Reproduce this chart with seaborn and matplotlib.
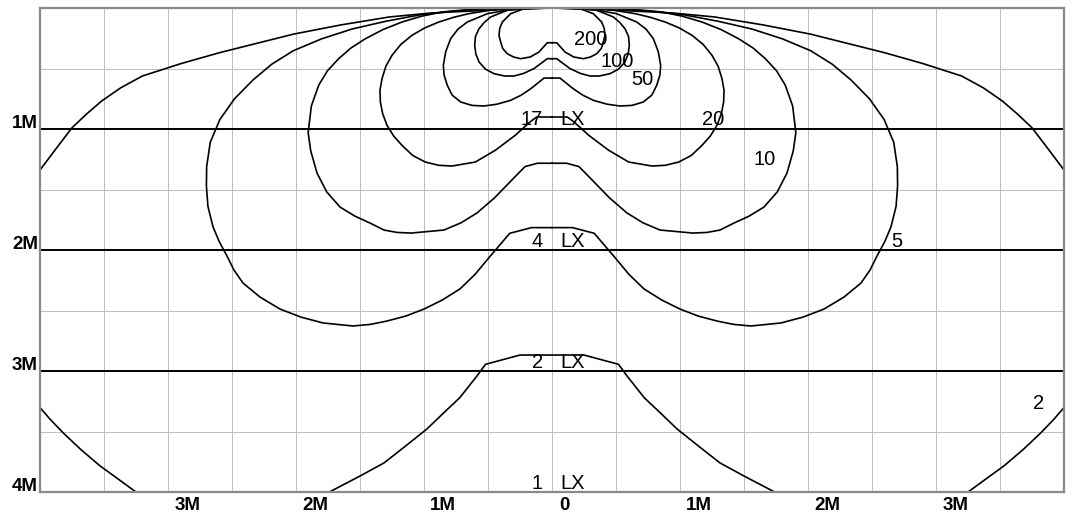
import numpy as np
import pandas as pd
import matplotlib
matplotlib.use("Agg")
import matplotlib.pyplot as plt
import seaborn as sns

# isolux curves, right half only (x in M from the lamp, y = depth in M)
# each half runs from the centre line out round the lobe and back to the top
lux_200 = [(0, 0.287), (0.037, 0.287), (0.102, 0.364), (0.17, 0.405), (0.245, 0.419),
           (0.3, 0.405), (0.349, 0.378), (0.385, 0.335), (0.401, 0.281), (0.414, 0.226),
           (0.408, 0.168), (0.388, 0.116), (0.323, 0.047), (0.219, 0.006), (0.1, 0.0),
           (0, 0)]
lux_100 = [(0, 0.419), (0.037, 0.419), (0.141, 0.501), (0.22, 0.54), (0.297, 0.562),
           (0.37, 0.562), (0.453, 0.543), (0.52, 0.505), (0.57, 0.446), (0.595, 0.38),
           (0.604, 0.308), (0.598, 0.235), (0.57, 0.171), (0.53, 0.12), (0.479, 0.074),
           (0.349, 0.019), (0.15, 0.002), (0, 0)]
lux_50 = [(0, 0.579), (0.0625, 0.579), (0.166, 0.667), (0.24, 0.72), (0.323, 0.763),
          (0.43, 0.795), (0.531, 0.81), (0.625, 0.805), (0.713, 0.777), (0.78, 0.72),
          (0.818, 0.639), (0.843, 0.555), (0.849, 0.474), (0.83, 0.36), (0.792, 0.254),
          (0.735, 0.175), (0.662, 0.116), (0.505, 0.047), (0.3, 0.008), (0, 0)]
lux_20 = [(0, 0.901), (0.12, 0.901), (0.17, 0.94), (0.287, 1.052), (0.443, 1.176),
          (0.599, 1.273), (0.781, 1.306), (0.885, 1.30), (0.99, 1.273), (1.089, 1.218),
          (1.172, 1.135), (1.237, 1.058), (1.289, 0.97), (1.323, 0.873), (1.341, 0.777),
          (1.344, 0.68), (1.328, 0.584), (1.297, 0.479), (1.25, 0.391), (1.18, 0.30),
          (1.094, 0.226), (0.995, 0.165), (0.885, 0.116), (0.768, 0.077),
          (0.651, 0.047), (0.52, 0.025), (0.391, 0.006), (0.2, 0.001), (0, 0)]
lux_10 = [(0, 1.283), (0.115, 1.283), (0.211, 1.311), (0.313, 1.421), (0.45, 1.57),
          (0.586, 1.694), (0.71, 1.775), (0.844, 1.835), (1.1, 1.86), (1.21, 1.855),
          (1.313, 1.835), (1.422, 1.777), (1.54, 1.72), (1.656, 1.645), (1.76, 1.52),
          (1.836, 1.364), (1.885, 1.18), (1.905, 1.03), (1.88, 0.81), (1.823, 0.639),
          (1.755, 0.52), (1.667, 0.419), (1.57, 0.33), (1.458, 0.254), (1.32, 0.178),
          (1.172, 0.116), (1.02, 0.068), (0.859, 0.033), (0.521, 0.0), (0, 0)]
lux_5 = [(0, 1.815), (0.16, 1.815), (0.33, 1.862), (0.49, 2.06), (0.6, 2.2),
         (0.719, 2.322), (0.86, 2.415), (1.0, 2.488), (1.14, 2.545), (1.289, 2.587),
         (1.42, 2.615), (1.555, 2.628), (1.789, 2.603), (1.96, 2.555), (2.125, 2.488),
         (2.28, 2.39), (2.414, 2.273), (2.485, 2.165), (2.539, 2.05), (2.60, 1.93),
         (2.648, 1.81), (2.688, 1.64), (2.70, 1.47), (2.698, 1.311), (2.67, 1.11),
         (2.594, 0.92), (2.48, 0.75), (2.336, 0.595), (2.19, 0.465), (2.021, 0.353),
         (1.80, 0.255), (1.563, 0.174), (1.30, 0.11), (1.039, 0.058), (0.78, 0.027),
         (0.516, 0.008), (0, 0)]
lux_outer = [(4.05, 1.41), (3.88, 1.17), (3.75, 0.99), (3.64, 0.88), (3.52, 0.77),
             (3.37, 0.66), (3.2, 0.562), (2.9, 0.46), (2.6, 0.37), (2.02, 0.216),
             (1.65, 0.14), (1.27, 0.074), (0.94, 0.041), (0.47, 0.017), (0, 0)]
lux_low = [(1.80, 4.05), (1.75, 4.006), (1.5, 3.868), (1.313, 3.76), (1.15, 3.625),
           (0.977, 3.479), (0.85, 3.35), (0.72, 3.22), (0.586, 3.041), (0.52, 2.945),
           (0.25, 2.868), (0, 2.868)]
lux_corner = [(4.1, 3.2), (4.01, 3.29), (3.92, 3.40), (3.82, 3.51), (3.68, 3.65),
              (3.53, 3.785), (3.38, 3.90), (3.24, 4.008), (3.2, 4.04)]

# curve labels: text, x, baseline y
curve_labels = [("200", 0.303, 0.308), ("100", 0.508, 0.488), ("50", 0.707, 0.639),
                ("20", 1.258, 0.969), ("10", 1.664, 1.30), ("5", 2.695, 1.973),
                ("2", 3.805, 3.317)]
# lux straight below the lamp at each depth
centre_lux = ["17", "4", "2", "1"]
centre_y = [0.971, 1.973, 2.973, 3.975]

depth_ticks = [1, 2, 3, 4]
dist_ticks = [-3, -2, -1, 0, 1, 2, 3]
dist_labels = ["3M", "2M", "1M", "0", "1M", "2M", "3M"]


def mirror(half):
    return half + [(-x, y) for x, y in reversed(half)]


curves = {
    "200": mirror(lux_200),
    "100": mirror(lux_100),
    "50": mirror(lux_50),
    "20": mirror(lux_20),
    "10": mirror(lux_10),
    "5": mirror(lux_5),
    "outer": mirror(lux_outer),
    "low": mirror(lux_low),
    "corner_r": lux_corner,
    "corner_l": [(-x, y) for x, y in lux_corner],
}
rows = [(name, i, x, y) for name, pts in curves.items() for i, (x, y) in enumerate(pts)]
df = pd.DataFrame(rows, columns=["curve", "order", "x", "y"])

sns.set_style("white")
plt.rcParams["font.family"] = ["Liberation Sans", "DejaVu Sans"]
plt.rcParams["text.color"] = "black"

fig = plt.figure(figsize=(10.74, 5.16), dpi=100)
ax = fig.add_axes([40 / 1074, 24 / 516, 1024 / 1074, 484 / 516])

sns.lineplot(data=df, x="x", y="y", units="curve", estimator=None, sort=False,
             color="black", lw=1.2, ax=ax, legend=False)

ax.set_xlim(-4, 4)
ax.set_ylim(4, 0)
ax.set_xticks(np.arange(-4, 4.01, 0.5))
ax.set_yticks(np.arange(0, 4.01, 0.5))
ax.grid(True, color="#bdbdbd", lw=0.7)
ax.tick_params(length=0, labelbottom=False, labelleft=False)
ax.set_xlabel("")
ax.set_ylabel("")
for s in ax.spines.values():
    s.set_color("#8a8a8a")
    s.set_linewidth(1.6)

for d in depth_ticks[:-1]:
    ax.axhline(d, color="black", lw=1.4, zorder=1)

# axis labels drawn as text, offset like the original
for d in depth_ticks:
    ax.text(-4.016, d - 0.008, f"{d}M", ha="right", va="baseline", color="black",
            fontsize=13.5, fontweight="bold", clip_on=False)
for v, lab in zip(dist_ticks, dist_labels):
    off = 0.094 if v == 0 else 0.15
    ax.text(v + off, 4.147, lab, ha="center", va="baseline", color="black",
            fontsize=13.5, fontweight="bold", clip_on=False)

for txt, x, y in curve_labels:
    ax.text(x, y, txt, ha="center", va="baseline", fontsize=14.5, color="black")
for txt, y in zip(centre_lux, centre_y):
    ax.text(-0.07, y, txt, ha="right", va="baseline", fontsize=14.5, color="black")
    ax.text(0.0625, y, "LX", ha="left", va="baseline", fontsize=14.5, color="black")

fig.savefig("out.png", dpi=100)
